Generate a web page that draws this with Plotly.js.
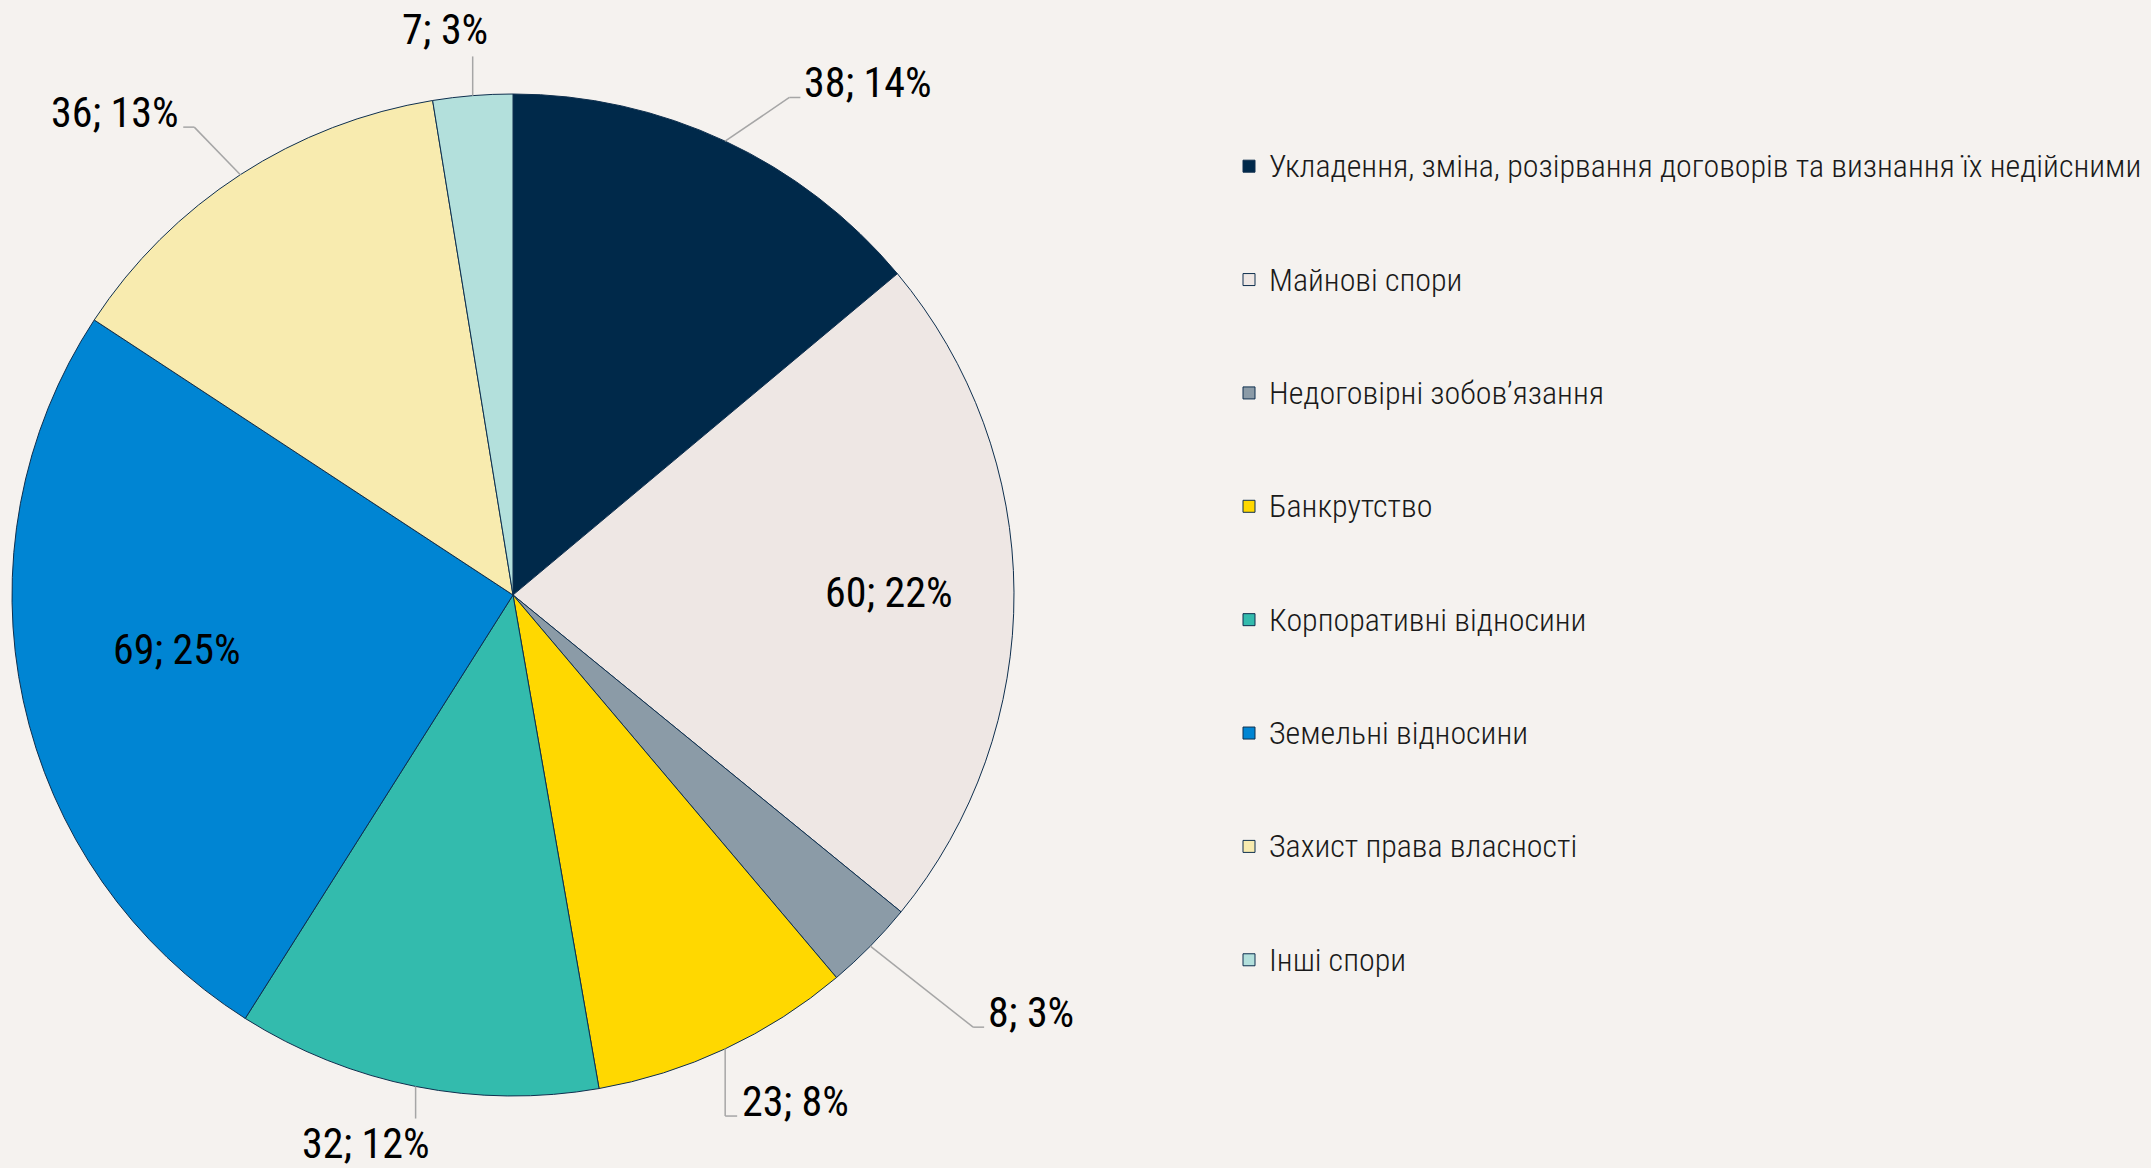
<!DOCTYPE html>
<html>
<head>
<meta charset="utf-8">
<script src="https://cdn.plot.ly/plotly-3.0.1.min.js"></script>
<style>
  html, body { margin: 0; padding: 0; background: #F5F2EF; }
  #chart { width: 2151px; height: 1168px; }
</style>
</head>
<body>
<div id="chart"></div>
<script>
// ---- data ----
const categories = [
  'Укладення, зміна, розірвання договорів та визнання їх недійсними',
  'Майнові спори',
  'Недоговірні зобов’язання',
  'Банкрутство',
  'Корпоративні відносини',
  'Земельні відносини',
  'Захист права власності',
  'Інші спори'
];
const counts = [38, 60, 8, 23, 32, 69, 36, 7];

// ---- style ----
const colors = ['#00294A', '#EEE7E4', '#8B9BA7', '#FFD800', '#33BBAD', '#0085D3', '#F8EBAF', '#B3E0DC'];
// label placement style per slice: mode, radial factor (fraction of radius), angle nudge (deg), text x-offset (px)
const labelMode  = ['side', 'in', 'side', 'vside', 'bottom', 'in', 'side', 'top'];
const labelRad   = [1.136, 0.75, 1.26, 1.04, 1.045, 0.68, 1.13, 1.075];
const labelAngle = [4, 0, -1.3, 0, 0, 3, -1.3, 0];
const labelDx    = [0, 0, 0, 0, -50, 0, 0, -28];

const W = 2151, H = 1168;
const FONT = '"Roboto Condensed", "Liberation Sans Narrow", "DejaVu Sans Condensed", Roboto, sans-serif';
const dom = { x: [12 / W, 1014 / W], y: [72 / H, 1074 / H] };

// geometry derived from the pie domain
const cx = W * (dom.x[0] + dom.x[1]) / 2;
const cy = H * (1 - (dom.y[0] + dom.y[1]) / 2);
const R = Math.min(W * (dom.x[1] - dom.x[0]), H * (dom.y[1] - dom.y[0])) / 2;
const total = counts.reduce((a, b) => a + b, 0);
const px = x => x / W, py = y => 1 - y / H;

const annotations = [], shapes = [];
const lineStyle = { color: '#A6A6A6', width: 1.5 };
function seg(x0, y0, x1, y1) {
  shapes.push({ type: 'line', xref: 'paper', yref: 'paper', x0: px(x0), y0: py(y0), x1: px(x1), y1: py(y1), line: lineStyle, layer: 'above' });
}
let cum = 0;
counts.forEach((v, i) => {
  const mid = (cum + v / 2) / total * 2 * Math.PI; // clockwise from 12 o'clock
  cum += v;
  const s = Math.sin(mid), c = Math.cos(mid);
  const a = mid + labelAngle[i] * Math.PI / 180;
  const sa = Math.sin(a), ca = Math.cos(a);
  const pct = Math.round(v / total * 100);
  const txt = v + '; ' + pct + '%';
  const ex = cx + R * s, ey = cy - R * c; // edge point at mid-angle
  const f = labelRad[i];
  const ann = { xref: 'paper', yref: 'paper', text: txt, showarrow: false,
                font: { family: FONT, size: 42, color: '#000000' } };
  const mode = labelMode[i];
  if (mode === 'in') {
    ann.x = px(cx + f * R * sa); ann.y = py(cy - f * R * ca);
    ann.xanchor = 'center'; ann.yanchor = 'middle';
  } else if (mode === 'side') {
    const kx = cx + f * R * sa, ky = cy - f * R * ca;
    const dir = s >= 0 ? 1 : -1;
    seg(ex, ey, kx, ky);
    seg(kx, ky, kx + dir * 11, ky);
    ann.x = px(kx + dir * 13); ann.y = py(ky - 15);
    ann.xanchor = dir > 0 ? 'left' : 'right'; ann.yanchor = 'middle';
  } else if (mode === 'vside') {
    const ky = cy + f * R;
    const dir = s >= 0 ? 1 : -1;
    seg(ex, ey, ex, ky);
    seg(ex, ky, ex + dir * 12, ky);
    ann.x = px(ex + dir * 15); ann.y = py(ky - 15);
    ann.xanchor = dir > 0 ? 'left' : 'right'; ann.yanchor = 'middle';
  } else if (mode === 'top') {
    const ky = cy - f * R;
    seg(ex, ey, ex, ky);
    ann.x = px(ex + labelDx[i]); ann.y = py(ky);
    ann.xanchor = 'center'; ann.yanchor = 'bottom';
  } else if (mode === 'bottom') {
    const ky = cy + f * R;
    seg(ex, ey, ex, ky);
    ann.x = px(ex + labelDx[i]); ann.y = py(ky - 2);
    ann.xanchor = 'center'; ann.yanchor = 'top';
  }
  annotations.push(ann);
});

// legend entries padded with blank lines to reproduce the wide vertical spacing
const legendLabels = categories.map(cat =>
  '&nbsp;<br><span style="font-size:32px;font-weight:300">' + cat + '</span><br>&nbsp;');

const trace = {
  type: 'pie',
  labels: legendLabels,
  values: counts,
  sort: false,
  direction: 'clockwise',
  rotation: 0,
  textinfo: 'none',
  hoverinfo: 'value+percent',
  domain: dom,
  marker: { colors: colors, line: { color: '#0E2F4E', width: 1 } }
};

const layout = {
  width: W, height: H,
  margin: { l: 0, r: 0, t: 0, b: 0 },
  paper_bgcolor: '#F5F2EF',
  plot_bgcolor: '#F5F2EF',
  showlegend: true,
  legend: {
    x: 1229 / W, xanchor: 'left',
    y: 1 - 563 / H, yanchor: 'middle',
    font: { family: FONT, size: 28.3, color: '#1A1A1A', weight: 300 },
    bgcolor: 'rgba(0,0,0,0)',
    traceorder: 'normal'
  },
  annotations: annotations,
  shapes: shapes
};

Plotly.newPlot('chart', [trace], layout, { displayModeBar: false, staticPlot: true });
</script>
</body>
</html>
